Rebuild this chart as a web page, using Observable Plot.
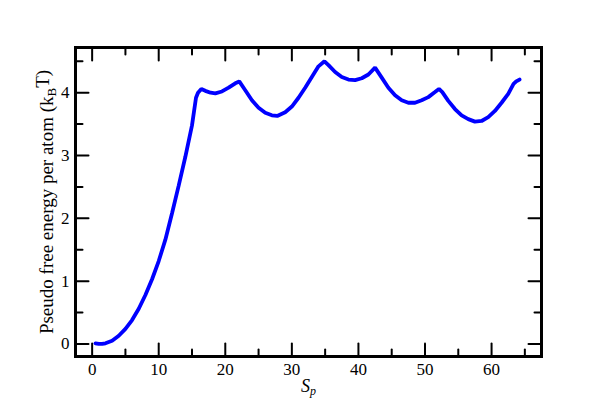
<!DOCTYPE html>
<html><head><meta charset="utf-8">
<script src="https://cdn.jsdelivr.net/npm/d3@7"></script>
<script src="https://cdn.jsdelivr.net/npm/@observablehq/plot@0.6"></script>
<style>body{margin:0;background:#fff;}</style>
</head><body><div id="chart"></div>
<script>
const sp = [0.5,1,1.5,2,3,4,5,6,7,8,9,10,11,12,13,14,15,15.6,15.9,16.4,17,17.8,18.5,19.5,20.5,21.5,22.1,23,24,25,26,27,27.8,29,30,31,32,33,34,34.9,35.5,36.5,37.5,38.5,39.5,40.5,41.5,42.5,43.5,44.5,45.5,46.5,47.5,48.5,49.5,50.5,51.5,52.1,52.6,53.5,54.5,55.5,56.5,57.5,58.5,59.5,60.5,61.5,62.5,63.3,63.7,64.2];
const energy = [0.01,0.0,0.0,0.01,0.05,0.13,0.24,0.38,0.56,0.78,1.03,1.32,1.66,2.08,2.52,2.98,3.48,3.92,4.0,4.06,4.03,4.0,3.99,4.02,4.08,4.15,4.18,4.04,3.88,3.76,3.68,3.64,3.63,3.69,3.78,3.92,4.08,4.25,4.42,4.50,4.44,4.33,4.25,4.21,4.20,4.23,4.29,4.40,4.24,4.08,3.96,3.88,3.84,3.84,3.88,3.93,4.01,4.06,4.01,3.87,3.74,3.64,3.58,3.54,3.55,3.61,3.71,3.84,3.98,4.14,4.18,4.21];
const xMajorTicks = [0,10,20,30,40,50,60];
const xMinorTicks = [5,15,25,35,45,55,65];
const yMajorTicks = [0,1,2,3,4];
const yMinorTicks = [0.5,1.5,2.5,3.5,4.5];
const yTitle = ["Pseudo free energy per atom (k", "B", "T)"];
const xTitle = ["S", "p"];

const data = sp.map((s, i) => ({s, e: energy[i]}));
const tickShape = {draw(ctx, l) { ctx.moveTo(0, 0); ctx.lineTo(0, -l); }};
const tick = (vals, axis, anchor, len) => Plot.vector(vals, {
  [axis]: d => d, frameAnchor: anchor, length: len, anchor: "start",
  rotate: {bottom: 0, top: 180, left: 90, right: -90}[anchor],
  shape: tickShape, stroke: "black", strokeWidth: 2
});
const FONT = "'Liberation Serif', 'Times New Roman', 'DejaVu Serif', serif";

const chart = Plot.plot({
  width: 600, height: 400,
  marginLeft: 75, marginRight: 59, marginTop: 47, marginBottom: 44,
  x: {domain: [-2.5, 67.5]},
  y: {domain: [-0.2, 4.72]},
  style: {fontFamily: FONT, fontSize: "17px", color: "black", background: "white"},
  marks: [
    Plot.axisX({ticks: xMajorTicks, anchor: "bottom", tickSize: 0, tickPadding: 6, label: null, fontSize: 17, tickFormat: d => String(d)}),
    Plot.axisY({ticks: yMajorTicks, anchor: "left", tickSize: 0, tickPadding: 6, label: null, fontSize: 17, tickFormat: d => String(d)}),
    tick(xMajorTicks, "x", "bottom", 13), tick(xMinorTicks, "x", "bottom", 7),
    tick(xMajorTicks, "x", "top", 13), tick(xMinorTicks, "x", "top", 7),
    tick(yMajorTicks, "y", "left", 13), tick(yMinorTicks, "y", "left", 7),
    tick(yMajorTicks, "y", "right", 13), tick(yMinorTicks, "y", "right", 7),
    Plot.line(data, {x: "s", y: "e", stroke: "#0000ff", strokeWidth: 3.8, strokeLinejoin: "miter"}),
    Plot.frame({stroke: "black", strokeWidth: 3}),
    Plot.text([yTitle.join("")], {frameAnchor: "left", dx: -29, rotate: -90, fontSize: 19, fill: "black", textAnchor: "middle", lineAnchor: "middle"}),
    Plot.text([xTitle.join("")], {frameAnchor: "bottom", dy: 30, fontSize: 18, fill: "black", textAnchor: "middle", lineAnchor: "middle"})
  ]
});

// subscripts and serif font
const NS = "http://www.w3.org/2000/svg";
chart.querySelectorAll("text").forEach(t => {
  t.style.fontFamily = FONT;
  const txt = t.textContent;
  if (txt === yTitle.join("")) {
    t.textContent = "";
    const a = document.createElementNS(NS, "tspan"); a.textContent = yTitle[0];
    const b = document.createElementNS(NS, "tspan"); b.textContent = yTitle[1];
    b.setAttribute("dy", "0.3em"); b.setAttribute("font-size", "13");
    const c = document.createElementNS(NS, "tspan"); c.textContent = yTitle[2];
    c.setAttribute("dy", "-0.42em");
    t.append(a, b, c);
  } else if (txt === xTitle.join("")) {
    t.textContent = "";
    t.setAttribute("font-style", "italic");
    const a = document.createElementNS(NS, "tspan"); a.textContent = xTitle[0];
    const b = document.createElementNS(NS, "tspan"); b.textContent = xTitle[1];
    b.setAttribute("dy", "0.25em"); b.setAttribute("font-size", "12");
    t.append(a, b);
  }
});
document.getElementById("chart").append(chart);
</script></body></html>
